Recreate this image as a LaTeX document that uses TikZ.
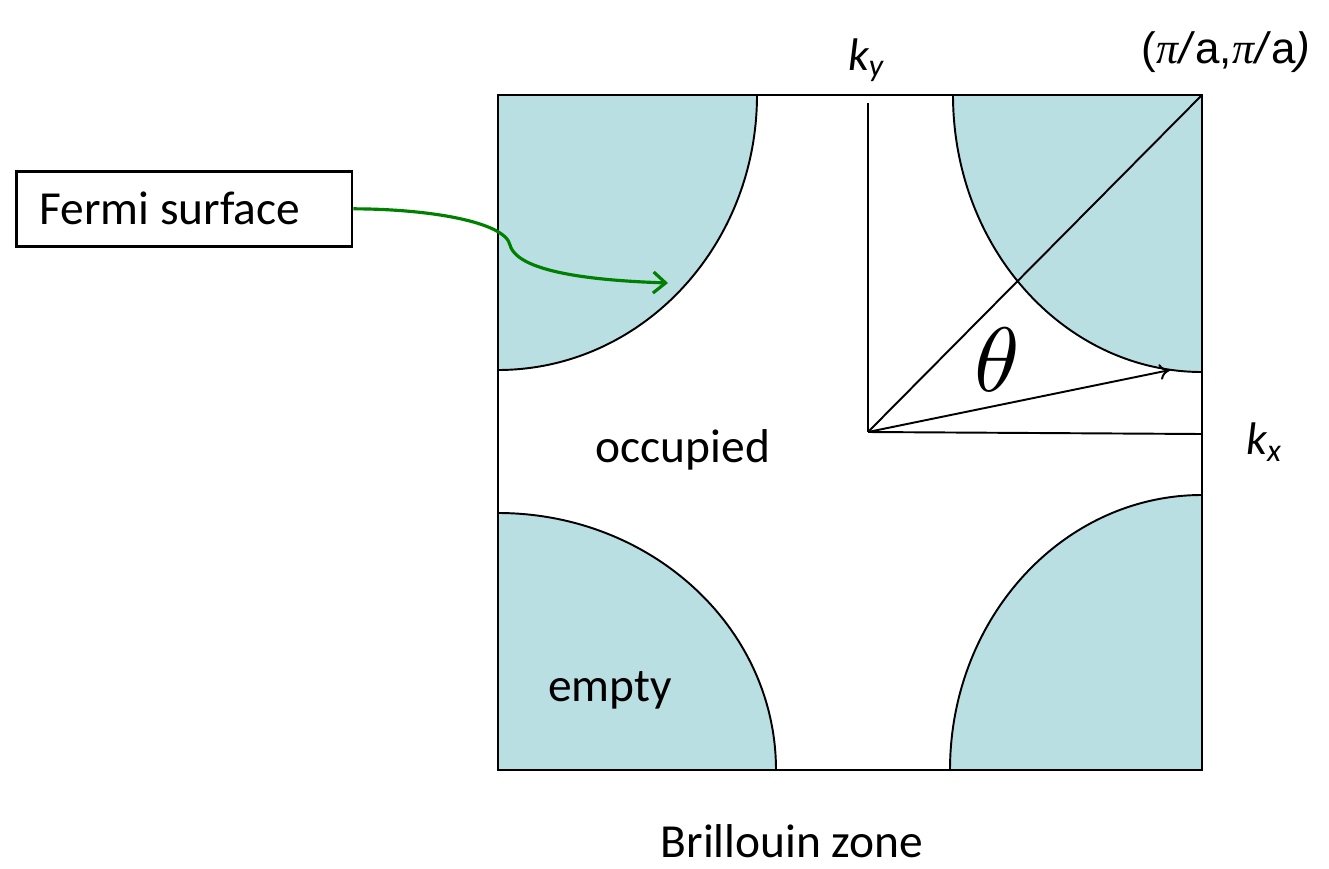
\documentclass[tikz,border=0pt]{standalone}
\usepackage{fontspec}
\setmainfont{Carlito}
\newfontfamily\arialfont{Liberation Sans}
\newfontfamily\timesfont{Liberation Serif}
\usetikzlibrary{arrows.meta}
\definecolor{fsblue}{RGB}{186,223,226}
\definecolor{fsgreen}{RGB}{0,128,0}
\tikzset{
  pocket/.style={fill=fsblue},
  fsline/.style={line width=1.1pt},
  lbl/.style={inner sep=0pt, font=\fontsize{27}{32}\selectfont},
  klbl/.style={inner sep=0pt, font=\fontsize{26}{31}\selectfont\itshape}
}
\begin{document}
\begin{tikzpicture}[x=0.02cm,y=-0.02cm]
\useasboundingbox (0,0) rectangle (1329,869);
% empty pockets at the zone corners
\fill[pocket] (498,770) -- (776,770) arc[start angle=0,end angle=-90,x radius=278,y radius=257] -- cycle;
\fill[pocket] (498,95) -- (757,95) arc[start angle=0,end angle=90,x radius=259,y radius=275] -- cycle;
\fill[pocket] (1202,95) -- (953,95) arc[start angle=180,end angle=90,x radius=249,y radius=277] -- cycle;
\fill[pocket] (1202,770) -- (950,770) arc[start angle=180,end angle=270,x radius=252,y radius=275] -- cycle;
\draw[fsline] (776,770) arc[start angle=0,end angle=-90,x radius=278,y radius=257];
\draw[fsline] (757,95) arc[start angle=0,end angle=90,x radius=259,y radius=275];
\draw[fsline] (953,95) arc[start angle=180,end angle=90,x radius=249,y radius=277];
\draw[fsline] (950,770) arc[start angle=180,end angle=270,x radius=252,y radius=275];
% zone boundary
\draw[fsline] (498,95) rectangle (1202,770);
% axes
\coordinate (O) at (868,432);
\coordinate (ytop) at (868,103);
\coordinate (xend) at (1202,434);
\coordinate (corner) at (1202,95);
\coordinate (kf) at (1170,370);
\draw[fsline] (O) -- (ytop);
\draw[fsline] (O) -- (xend);
\draw[fsline] (O) -- (corner);
\draw[fsline,-{To[length=6pt,width=9pt]}] (O) -- (kf);
\node[inner sep=0pt] (th) at (997,360) {\scalebox{5.2}{$\theta$}};
% labels
\node[klbl] (ky) at (866,60) {k\textsubscript{y}};
\node[klbl] (kx) at (1264,442) {k\textsubscript{x}};
\node[inner sep=0pt, font=\fontsize{25}{30}\selectfont\arialfont] (pa) at (1226,52)
  {(\textit{\timesfont π}\textit{/}a,\textit{\timesfont π}\textit{/}a\textit{)}};
\node[lbl] (occ) at (683,450) {occupied};
\node[lbl] (emp) at (610,690) {empty};
\node[lbl, anchor=base] (bz) at (792,857) {Brillouin zone};
\node[draw, line width=1.5pt, anchor=north west, inner xsep=0.46cm,
  minimum height=1.5cm, font=\fontsize{27}{32}\selectfont] (fermi) at (15,170) {Fermi surface\hspace*{0.58cm}};
\coordinate (ftip) at (668,283);
\draw[fsgreen, line width=1.8pt, -{Straight Barb[length=7pt,width=12pt]}]
  (fermi.east) .. controls (430,209) and (505,222) .. (510,245)
  .. controls (518,275) and (610,281) .. (ftip);
\end{tikzpicture}
\end{document}
